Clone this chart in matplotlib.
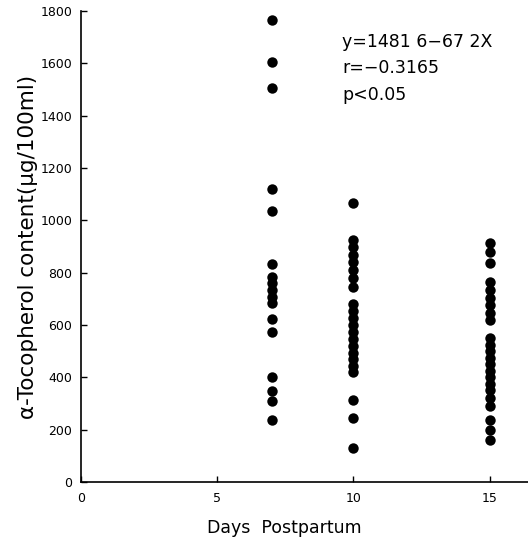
import matplotlib
matplotlib.use("Agg")
import matplotlib.pyplot as plt

# Tocopherol content by day postpartum
DAY7 = [1765, 1605, 1505, 1120, 1036, 833, 784, 760, 733, 707, 684, 623, 573, 401, 348, 310, 237]
DAY10 = [1066, 925, 898, 867, 840, 810, 780, 745, 680, 655, 628, 600, 575, 548, 520,
         495, 470, 445, 420, 313, 245, 130]
DAY15 = [913, 880, 837, 764, 735, 705, 675, 645, 619, 550, 525, 500, 475, 450, 425,
         400, 375, 350, 320, 290, 237, 199, 160]
DAYS = [7, 10, 15]

ANNOTATION = ["y=1481 6\u221267 2X", "r=\u22120.3165", "p<0.05"]

plt.rcParams["font.family"] = ["DejaVu Sans"]

fig = plt.figure(figsize=(5.28, 5.46), dpi=100)
ax = fig.add_axes([0.153, 0.117, 0.847, 0.863])

for day, values in zip(DAYS, [DAY7, DAY10, DAY15]):
    ax.plot([day] * len(values), values, "o", color="black", markersize=7.5,
            markeredgewidth=0, clip_on=False)

ax.set_xlim(0, 16.4)
ax.set_ylim(0, 1800)
ax.set_xticks([0, 5, 10, 15])
ax.set_yticks(range(0, 1801, 200))
ax.tick_params(direction="in", length=4, width=1, labelsize=9, colors="black")
ax.tick_params(axis="x", pad=7)
ax.tick_params(axis="y", pad=6)

ax.spines["top"].set_visible(False)
ax.spines["right"].set_visible(False)
ax.spines["left"].set_linewidth(1.2)
ax.spines["bottom"].set_linewidth(1.2)

ax.set_xlabel("Days  Postpartum", fontsize=12.5)
ax.xaxis.set_label_coords(0.456, -0.078)
ax.set_ylabel("\u03b1-Tocopherol content(\u03bcg/100ml)", fontsize=15.5, labelpad=2)

for i, line in enumerate(ANNOTATION):
    ax.text(0.585, 0.935 - i * 0.057, line, transform=ax.transAxes,
            fontsize=12.5, va="center", ha="left")

fig.savefig("out.png", dpi=100)
